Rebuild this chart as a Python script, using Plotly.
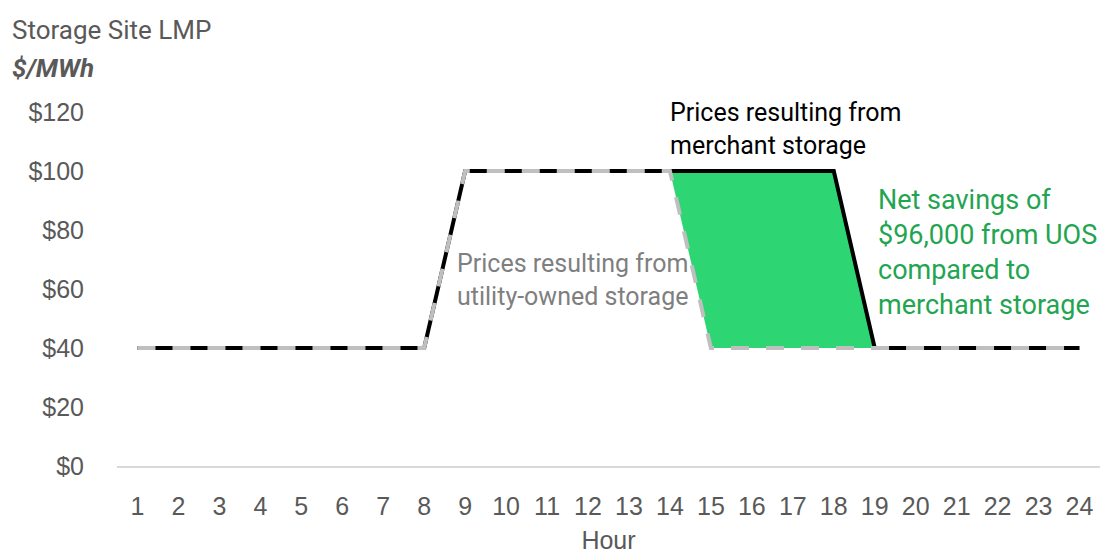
import plotly.graph_objects as go

# Hourly storage-site LMP ($/MWh) under two storage ownership cases
hours = list(range(1, 25))
merchant_prices = [40] * 8 + [100] * 10 + [40] * 6
uos_prices = [40] * 8 + [100] * 6 + [40] * 10

y_ticks = [0, 20, 40, 60, 80, 100, 120]
y_tick_labels = ["$0", "$20", "$40", "$60", "$80", "$100", "$120"]

GREY_TXT = "#595959"
TICK_FONT = dict(family="Liberation Sans, Arial, sans-serif", size=25, color=GREY_TXT)
NOTE_FAMILY = "Roboto, Open Sans, sans-serif"

fig = go.Figure()

# Shaded savings region between the two price paths
fig.add_trace(go.Scatter(x=hours, y=uos_prices, mode="lines",
                         line=dict(width=0), hoverinfo="skip", showlegend=False))
fig.add_trace(go.Scatter(x=hours, y=merchant_prices, mode="lines", fill="tonexty",
                         fillcolor="#2ED573", line=dict(width=0),
                         hoverinfo="skip", showlegend=False))

# Merchant storage prices: solid black
fig.add_trace(go.Scatter(x=hours, y=merchant_prices, mode="lines",
                         line=dict(color="#000000", width=4),
                         name="Merchant storage", showlegend=False))
# Utility-owned storage prices: grey dashed over the black line
fig.add_trace(go.Scatter(x=hours, y=uos_prices, mode="lines",
                         line=dict(color="#BFBFBF", width=4, dash="18px,17px"),
                         name="Utility-owned storage", showlegend=False))

fig.update_xaxes(range=[0.5, 24.5], tickvals=hours, ticktext=[str(h) for h in hours],
                 tickfont=TICK_FONT, showgrid=False, zeroline=False, automargin=False,
                 showline=True, linecolor="#D9D9D9", linewidth=1.5,
                 ticks="outside", ticklen=17, tickcolor="rgba(0,0,0,0)",
                 title=dict(text="Hour", font=TICK_FONT, standoff=15))
fig.update_yaxes(range=[0, 120], tickvals=y_ticks, ticktext=y_tick_labels,
                 tickfont=TICK_FONT, showgrid=False, zeroline=False, showline=False,
                 automargin=False,
                 ticks="outside", ticklen=27, tickcolor="rgba(0,0,0,0)")

notes = []

def note_lines(lines, x, y_top, step, color, size, xref="x", yref="y"):
    for i, line in enumerate(lines):
        notes.append(dict(text=line, x=x, y=y_top - i * step, xref=xref, yref=yref,
                          xanchor="left", yanchor="middle", showarrow=False, align="left",
                          font=dict(family=NOTE_FAMILY, size=size, color=color)))

# Axis heading in the top-left corner
notes.append(dict(text="Storage Site LMP", x=-0.1089, y=1.2316, xref="paper", yref="paper",
                  xanchor="left", yanchor="middle", showarrow=False,
                  font=dict(family=NOTE_FAMILY, size=26, color=GREY_TXT)))
notes.append(dict(text="<b><i>$/MWh</i></b>", x=-0.1089, y=1.1243, xref="paper", yref="paper",
                  xanchor="left", yanchor="middle", showarrow=False,
                  font=dict(family=NOTE_FAMILY, size=26, color=GREY_TXT)))

note_lines(["Prices resulting from", "merchant storage"], 13.95, 120.0, 11.2, "#000000", 25)
note_lines(["Prices resulting from", "utility-owned storage"], 8.75, 68.6, 11.2, "#7F7F7F", 25)
note_lines(["Net savings of", "$96,000 from UOS", "compared to", "merchant storage"],
           19.03, 90.3, 11.9, "#22A550", 27)

fig.update_layout(
    width=1112, height=554,
    margin=dict(l=117, r=12, t=112, b=88),
    plot_bgcolor="white", paper_bgcolor="white",
    annotations=notes,
)

fig.write_html("out.html")
